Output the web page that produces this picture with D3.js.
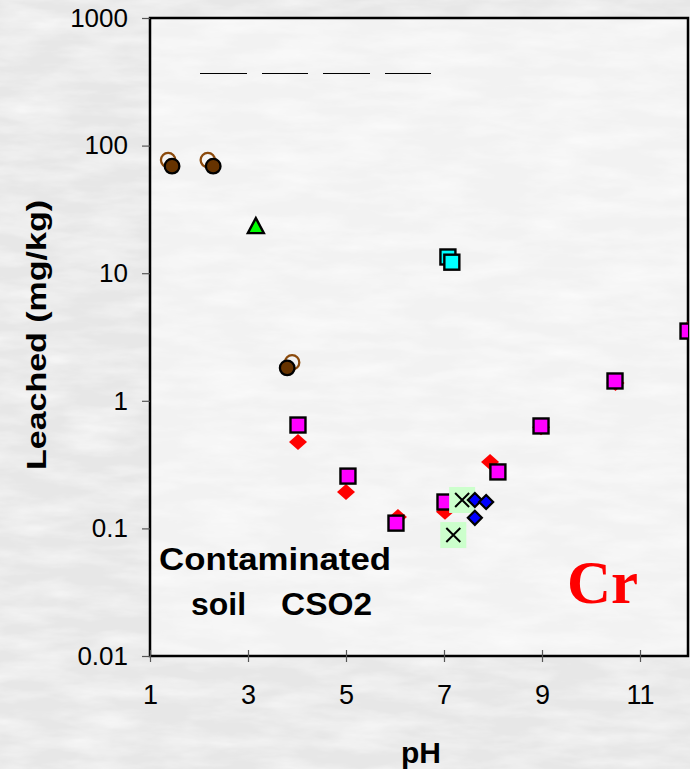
<!DOCTYPE html>
<html>
<head>
<meta charset="utf-8">
<script src="https://cdn.jsdelivr.net/npm/d3@7"></script>
<style>
  html, body { margin: 0; padding: 0; background: #ececec; }
  svg { display: block; }
</style>
</head>
<body>
<svg id="chart" width="690" height="769"></svg>
<script>
// Leached chromium vs pH for contaminated soil CSO2
const phTicks = [1, 3, 5, 7, 9, 11];
const leachTicks = [0.01, 0.1, 1, 10, 100, 1000];
const leachTickLabels = ["0.01", "0.1", "1", "10", "100", "1000"];

const openCirclePH = [1.37, 2.18, 3.9];
const openCircleVal = [77, 77, 2.0];
const filledCirclePH = [1.45, 2.29, 3.8];
const filledCircleVal = [69, 69, 1.81];
const trianglePH = [3.16];
const triangleVal = [23.4];
const cyanPH = [7.08, 7.16];
const cyanVal = [13.4, 12.2];
const redDiamondPH = [4.02, 5.0, 6.06, 7.02, 7.94, 8.98, 10.5, 12.0];
const redDiamondVal = [0.475, 0.193, 0.123, 0.135, 0.331, 0.62, 1.38, 3.7];
const magentaPH = [4.02, 5.04, 6.02, 7.02, 8.1, 8.98, 10.49, 11.98];
const magentaVal = [0.646, 0.257, 0.110, 0.161, 0.277, 0.635, 1.43, 3.52];
const crossPH = [7.37, 7.19];
const crossVal = [0.167, 0.0887];
const bluePH = [7.63, 7.86, 7.63];
const blueVal = [0.167, 0.161, 0.121];

const zip = (xs, ys) => xs.map((x, i) => ({ x, y: ys[i] }));

const SANS = "'Liberation Sans', Arial, Helvetica, sans-serif";
const SERIF = "'Liberation Serif', 'Times New Roman', Times, serif";

const svg = d3.select("#chart");
const W = 690, H = 769;
const plotLeft = 150, plotRight = 689, plotTop = 18, plotBottom = 656;

const x = d3.scaleLinear().domain([1, 12]).range([plotLeft, plotRight]);
const y = d3.scaleLog().domain([0.01, 1000]).range([plotBottom, plotTop]);

// soft mottled grey backdrop
const defs = svg.append("defs");
const tex = defs.append("filter").attr("id", "marble")
  .attr("x", 0).attr("y", 0).attr("width", "100%").attr("height", "100%");
tex.append("feTurbulence").attr("type", "fractalNoise")
  .attr("baseFrequency", "0.015 0.06").attr("numOctaves", 4).attr("seed", 3).attr("result", "n");
tex.append("feColorMatrix").attr("in", "n").attr("type", "matrix")
  .attr("values", "0 0 0 0 1  0 0 0 0 1  0 0 0 0 1  1.1 0 0 0 -0.4").attr("result", "w");
tex.append("feComposite").attr("in", "w").attr("in2", "SourceGraphic").attr("operator", "over");

svg.append("rect").attr("width", W).attr("height", H).attr("fill", "#e7e7e7")
  .attr("filter", "url(#marble)");
svg.append("rect").attr("x", plotLeft).attr("y", plotTop)
  .attr("width", plotRight - 1 - plotLeft).attr("height", plotBottom - plotTop)
  .attr("fill", "#f2f2f2").attr("filter", "url(#marble)");

defs.append("clipPath").attr("id", "plotClip").append("rect")
  .attr("x", plotLeft).attr("y", plotTop - 20)
  .attr("width", plotRight - 1 - plotLeft).attr("height", plotBottom - plotTop + 40);

// empty legend strokes
const legendDash = [[200, 247], [262, 308], [323, 370], [385, 431]];
svg.append("g").selectAll("line").data(legendDash).join("line")
  .attr("x1", d => d[0]).attr("x2", d => d[1]).attr("y1", 73.5).attr("y2", 73.5)
  .attr("stroke", "#000").attr("stroke-width", 1.2);

// frame
svg.append("path")
  .attr("d", `M${plotLeft},${plotBottom}V${plotTop}H${plotRight - 1}V${plotBottom}Z`)
  .attr("fill", "none").attr("stroke", "#000").attr("stroke-width", 2.5);

// y axis
const yAxis = d3.axisLeft(y).tickValues(leachTicks)
  .tickFormat((d, i) => leachTickLabels[i]).tickSize(8).tickPadding(14);
const gy = svg.append("g").attr("transform", `translate(${plotLeft},0)`).call(yAxis);
gy.select(".domain").remove();
gy.selectAll(".tick line").attr("stroke", "#555").attr("stroke-width", 1.2);
gy.selectAll(".tick text").attr("fill", "#000")
  .style("font-family", SANS).style("font-size", "26px");

// x axis (ticks cross the axis line)
const xAxis = d3.axisBottom(x).tickValues(phTicks).tickSize(5).tickPadding(24);
const gx = svg.append("g").attr("transform", `translate(0,${plotBottom})`).call(xAxis);
gx.select(".domain").remove();
gx.selectAll(".tick line").attr("y1", -6).attr("y2", 6).attr("stroke", "#555").attr("stroke-width", 1.2);
gx.selectAll(".tick text").attr("fill", "#000")
  .style("font-family", SANS).style("font-size", "27px");

// axis titles
svg.append("text").attr("x", 421).attr("y", 763).attr("text-anchor", "middle")
  .style("font-family", SANS).style("font-size", "30px").style("font-weight", "bold").text("pH");
svg.append("text").attr("transform", `translate(46,335) rotate(-90)`)
  .attr("text-anchor", "middle")
  .style("font-family", SANS).style("font-size", "28px").style("font-weight", "bold")
  .attr("textLength", 270).attr("lengthAdjust", "spacingAndGlyphs")
  .text("Leached (mg/kg)");

// annotations
svg.append("text").attr("x", 159).attr("y", 570)
  .style("font-family", SANS).style("font-size", "31px").style("font-weight", "bold")
  .attr("textLength", 232).attr("lengthAdjust", "spacingAndGlyphs").text("Contaminated");
svg.append("text").attr("x", 191).attr("y", 615)
  .style("font-family", SANS).style("font-size", "31px").style("font-weight", "bold")
  .attr("textLength", 55).attr("lengthAdjust", "spacingAndGlyphs").text("soil");
svg.append("text").attr("x", 281).attr("y", 615)
  .style("font-family", SANS).style("font-size", "31px").style("font-weight", "bold")
  .attr("textLength", 91).attr("lengthAdjust", "spacingAndGlyphs").text("CSO2");
svg.append("text").attr("x", 567).attr("y", 603)
  .style("font-family", SERIF).style("font-size", "61px").style("font-weight", "bold")
  .attr("fill", "#ff0000").text("Cr");

// markers
const plot = svg.append("g").attr("clip-path", "url(#plotClip)");

plot.append("g").selectAll("circle").data(zip(openCirclePH, openCircleVal)).join("circle")
  .attr("cx", d => x(d.x)).attr("cy", d => y(d.y)).attr("r", 7.2)
  .attr("fill", "none").attr("stroke", "#8b4a0c").attr("stroke-width", 2.3);

plot.append("g").selectAll("circle").data(zip(filledCirclePH, filledCircleVal)).join("circle")
  .attr("cx", d => x(d.x)).attr("cy", d => y(d.y)).attr("r", 7.3)
  .attr("fill", "#663300").attr("stroke", "#000").attr("stroke-width", 2.3);

plot.append("g").selectAll("path").data(zip(trianglePH, triangleVal)).join("path")
  .attr("transform", d => `translate(${x(d.x)},${y(d.y)})`)
  .attr("d", "M0,-8L8,7L-8,7Z")
  .attr("fill", "#00ff00").attr("stroke", "#000").attr("stroke-width", 2.4).attr("stroke-linejoin", "miter");

plot.append("g").selectAll("rect").data(zip(cyanPH, cyanVal)).join("rect")
  .attr("x", d => x(d.x) - 7.5).attr("y", d => y(d.y) - 7.5).attr("width", 15).attr("height", 15)
  .attr("fill", "#00ffff").attr("stroke", "#000").attr("stroke-width", 2.4);

plot.append("g").selectAll("path").data(zip(redDiamondPH, redDiamondVal)).join("path")
  .attr("transform", d => `translate(${x(d.x)},${y(d.y)})`)
  .attr("d", "M0,-8L9,0L0,8L-9,0Z").attr("fill", "#ff0000");

plot.append("g").selectAll("rect").data(zip(magentaPH, magentaVal)).join("rect")
  .attr("x", d => x(d.x) - 7.5).attr("y", d => y(d.y) - 7.5).attr("width", 15).attr("height", 15)
  .attr("fill", "#ff00ff").attr("stroke", "#000").attr("stroke-width", 2.4);

const crosses = plot.append("g").selectAll("g").data(zip(crossPH, crossVal)).join("g")
  .attr("transform", d => `translate(${x(d.x)},${y(d.y)})`);
crosses.append("rect").attr("x", -13).attr("y", -13).attr("width", 26).attr("height", 26)
  .attr("fill", "#ccffcc");
crosses.append("path").attr("d", "M-7,-7L7,7M7,-7L-7,7")
  .attr("stroke", "#000").attr("stroke-width", 2);

plot.append("g").selectAll("path").data(zip(bluePH, blueVal)).join("path")
  .attr("transform", d => `translate(${x(d.x)},${y(d.y)})`)
  .attr("d", "M0,-7L7,0L0,7L-7,0Z")
  .attr("fill", "#0000ff").attr("stroke", "#000").attr("stroke-width", 2.2);
</script>
</body>
</html>
